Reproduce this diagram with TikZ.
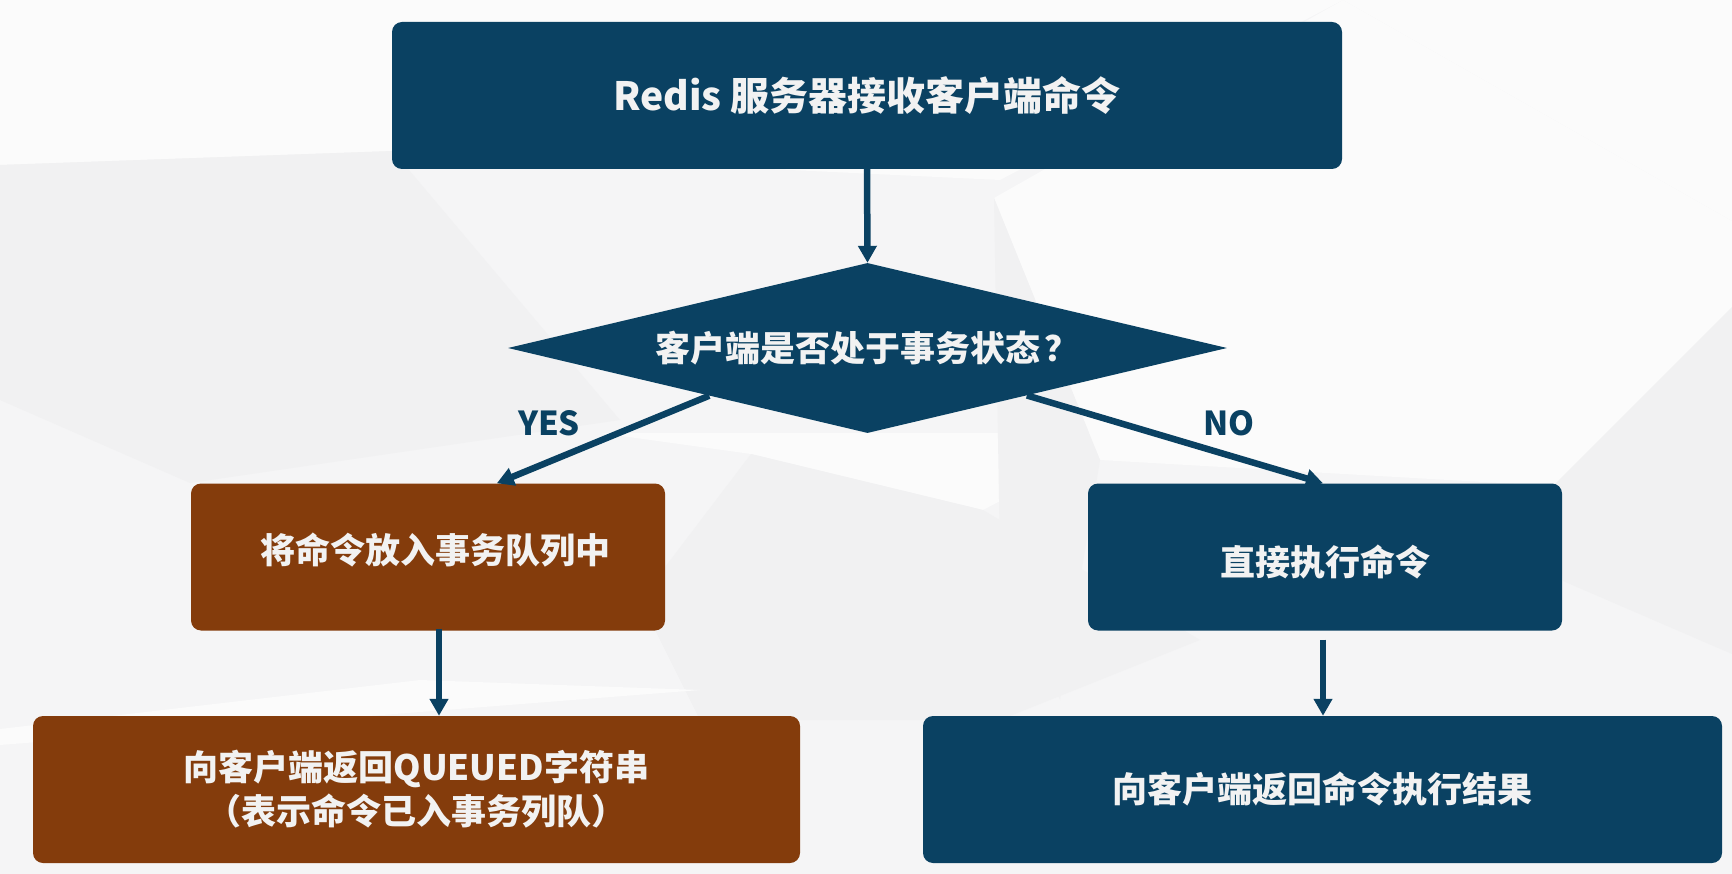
\documentclass[tikz,border=0pt]{standalone}
\usepackage{fontspec}
\setmainfont{Noto Sans CJK SC}
\usetikzlibrary{shapes.geometric,arrows.meta,calc}
\definecolor{navy}{HTML}{0A4162}
\definecolor{rust}{HTML}{843C0C}
\definecolor{txtw}{HTML}{F2F2F2}
\definecolor{bgbase}{HTML}{F5F5F6}
\definecolor{bglight}{HTML}{FBFBFB}
\definecolor{bgdark}{HTML}{F1F1F2}
\begin{document}
\begin{tikzpicture}[x=1pt,y=-1pt,
  box/.style={rectangle,rounded corners=10pt,inner sep=0pt,text=txtw,
    font=\fontsize{35}{44}\selectfont\bfseries,align=center,
    minimum height=147pt},
  bluebox/.style={box,fill=navy},
  brownbox/.style={box,fill=rust},
  decide/.style={diamond,aspect=4.23,fill=navy,inner sep=0pt,text=txtw,
    font=\fontsize{35}{44}\selectfont\bfseries,
    minimum width=719pt,minimum height=170pt},
  arr/.style={draw=navy,line width=6.5pt,-{Triangle[width=18pt,length=17pt]}},
  lbl/.style={text=navy,font=\fontsize{33}{40}\selectfont\bfseries,inner sep=0pt}]
% background
\useasboundingbox (0,0) rectangle (1732,874);
\fill[bgbase] (0,0) rectangle (1732,874);
\fill[bglight] (0,0) -- (1343,0) -- (1000,180) -- (393,151) -- (0,165) -- cycle;
\fill[bglight] (1343,0) -- (1732,0) -- (1732,221) -- cycle;
\fill[bglight] (994,198) -- (1343,0) -- (1732,221) -- (1732,307) -- (1553,486) -- (1100,460) -- cycle;
\fill[bglight] (600,433) -- (1130,433) -- (983,510) -- (751,454) -- cycle;
\fill[bgdark] (0,165) -- (393,151) -- (620,420) -- (190,483) -- (0,400) -- cycle;
\fill[bgdark] (751,454) -- (983,510) -- (1200,640) -- (1000,720) -- (700,720) -- (640,600) -- cycle;
\fill[bgdark] (1553,486) -- (1732,307) -- (1732,654) -- (1563,581) -- cycle;
\fill[bglight] (0,729) -- (420,680) -- (700,690) -- (0,745) -- cycle;
\fill[bgdark] (994,198) -- (1100,460) -- (1060,700) -- (1000,560) -- cycle;
% nodes
\node[bluebox,minimum width=950pt,font=\fontsize{39}{46}\selectfont\bfseries] (top) at (867,95.5) {Redis 服务器接收客户端命令};
\node[decide] (dia) at (867.5,348) {客户端是否处于事务状态\kern4pt？};
\node[brownbox,minimum width=474pt] (lb) at (428,557) {\raisebox{7pt}[\height][\depth]{\hspace*{14pt}将命令放入事务队列中}};
\node[bluebox,minimum width=474pt] (rb) at (1325,557) {\raisebox{-5pt}[\height][\depth]{直接执行命令}};
\node[brownbox,minimum width=767pt] (bl) at (416.5,789.5) {向客户端返回QUEUED字符串\\（表示命令已入事务列队）};
\node[bluebox,minimum width=799pt] (br) at (1322.5,789.5) {向客户端返回命令执行结果};
% connectors
\draw[arr] (top.south) -- (dia.north);
\draw[arr] ($(dia.south west)!0.12!(dia.south)$) -- ($(lb.north west)!0.645!(lb.north east)$);
\draw[arr] ($(dia.south)!0.886!(dia.south east)$) -- ([xshift=-2pt]rb.north);
\draw[arr] ([xshift=11pt,yshift=2pt]lb.south) -- ([xshift=11pt]lb.south |- bl.north);
\draw[arr] ([xshift=-2pt,yshift=-9pt]rb.south) -- ([xshift=-2pt]rb.south |- br.north);
% labels
\node[lbl] (yes) at (549,423) {YES};
\node[lbl] (no) at (1229,423) {NO};
\end{tikzpicture}
\end{document}
